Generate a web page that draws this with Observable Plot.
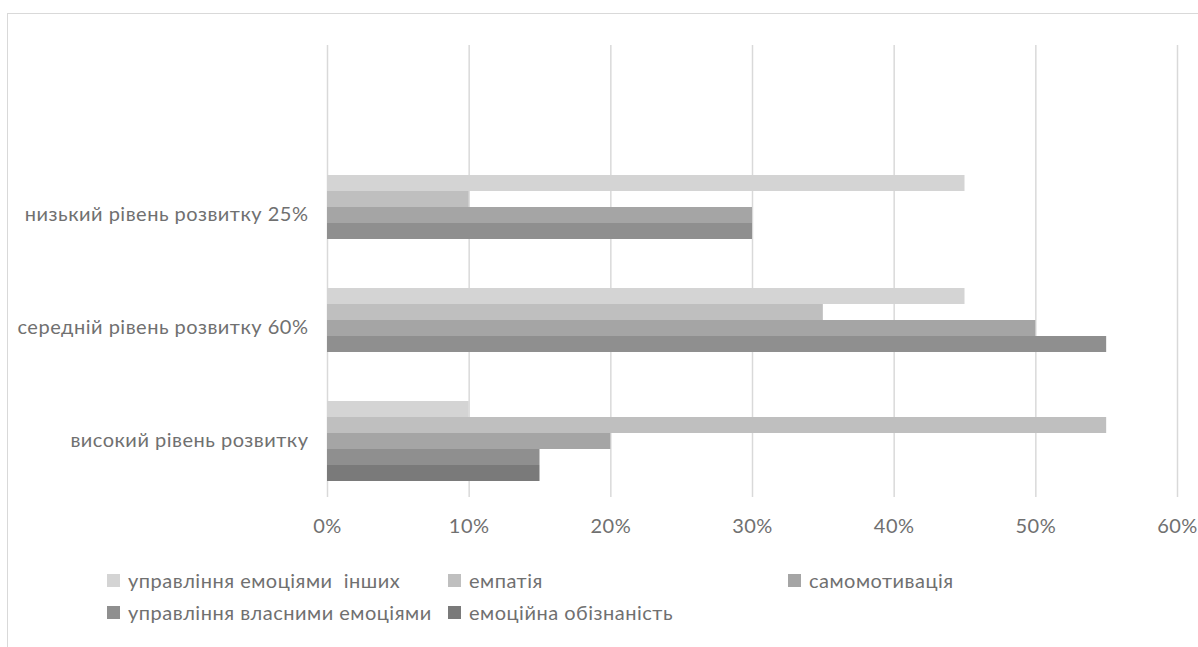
<!DOCTYPE html>
<html><head><meta charset="utf-8">
<script src="https://cdn.jsdelivr.net/npm/d3@7"></script>
<script src="https://cdn.jsdelivr.net/npm/@observablehq/plot@0.6"></script>
<style>
html,body{margin:0;padding:0;background:#fff;overflow:hidden}
#wrap{position:relative;width:1198px;height:647px;font-family:Lato, sans-serif;color:#707070}
#border{position:absolute;left:7px;top:13px;width:1300px;height:700px;border:1.5px solid #d9d9d9;box-sizing:border-box}
#chart{position:absolute;left:0;top:0}
#chart svg text{letter-spacing:0.5px}
#legend{position:absolute;left:107px;top:568px;display:grid;grid-template-columns:341px 340px auto;row-gap:8px}
.leg{display:flex;align-items:center;font-size:20px;letter-spacing:0.5px;line-height:24px;white-space:pre}
.sw{width:13px;height:13px;margin-right:8px;flex:none}
</style></head><body>
<div id="wrap"><div id="border"></div><div id="chart"></div><div id="legend"></div></div>
<script>
const blankCategory = " ";
const categories = ["низький рівень розвитку 25%", "середній рівень розвитку 60%", "високий рівень розвитку"];
const seriesNames = ["управління емоціями  інших", "емпатія", "самомотивація", "управління власними емоціями", "емоційна обізнаність"];
const seriesColors = ["#d4d4d4", "#bfbfbf", "#a5a5a5", "#8f8f8f", "#7a7a7a"];
// values per series, in the order of categories
const upravlinniaInshykh = [45, 45, 10];
const empatiia = [10, 35, 55];
const samomotyvatsiia = [30, 50, 20];
const upravlinniaVlasnymy = [30, 55, 15];
const emotsiinaObiznanist = [0, 0, 15];
const xTicks = [0, 10, 20, 30, 40, 50, 60];

const seriesValues = [upravlinniaInshykh, empatiia, samomotyvatsiia, upravlinniaVlasnymy, emotsiinaObiznanist];
const data = seriesNames.flatMap((s, i) => categories.map((c, j) => ({category: c, series: s, value: seriesValues[i][j]})));
const facetDomain = [blankCategory, ...categories];
const gridData = facetDomain.flatMap(c => xTicks.map(t => ({category: c, tick: t})));

const chart = Plot.plot({
  width: 1198, height: 545,
  marginTop: 44, marginBottom: 47, marginLeft: 327, marginRight: 21,
  style: {fontFamily: "Lato, sans-serif", fontSize: "20px", color: "#707070", background: "transparent"},
  x: {domain: [0, 60], ticks: xTicks, tickFormat: d => d + "%", tickSize: 0, tickPadding: 21, label: null},
  y: {domain: seriesNames, axis: null, paddingInner: 0, paddingOuter: 0.92},
  fy: {domain: facetDomain, paddingInner: 0, paddingOuter: 0, label: null, tickSize: 0, tickPadding: 19, axis: "left"},
  color: {domain: seriesNames, range: seriesColors},
  marks: [
    Plot.ruleX(gridData, {x: "tick", fy: "category", stroke: "#d9d9d9", strokeWidth: 1.5}),
    Plot.barX(data, {x: "value", y: "series", fy: "category", fill: "series"})
  ]
});
document.getElementById("chart").appendChild(chart);

const legend = document.getElementById("legend");
seriesNames.forEach((name, i) => {
  const item = document.createElement("div");
  item.className = "leg";
  const sw = document.createElement("span");
  sw.className = "sw";
  sw.style.background = seriesColors[i];
  item.appendChild(sw);
  item.appendChild(document.createTextNode(name));
  legend.appendChild(item);
});
</script>
</body></html>
